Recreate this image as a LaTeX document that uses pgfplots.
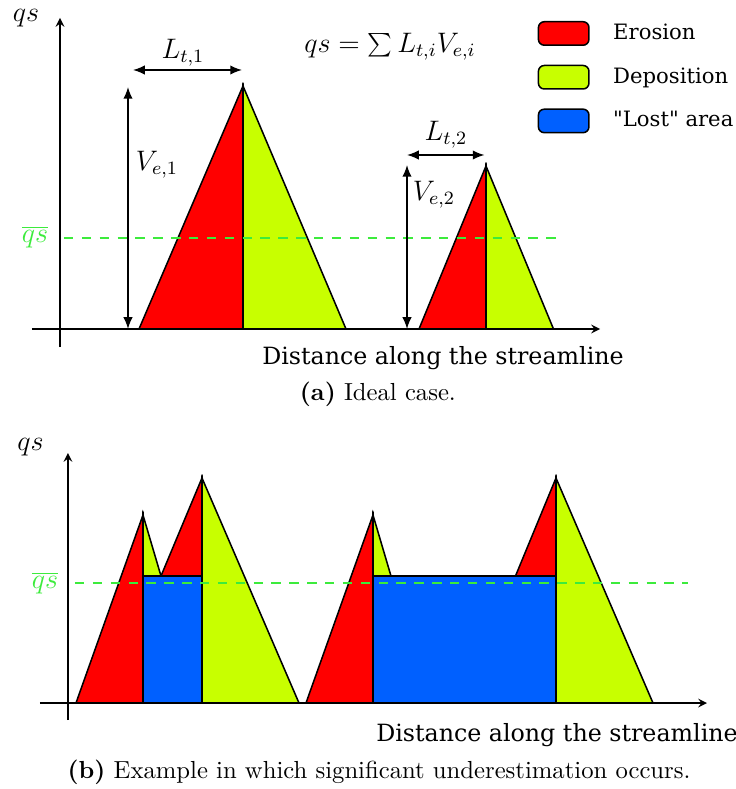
\documentclass[border=0pt]{standalone}
\usepackage{pgfplots}
\pgfplotsset{compat=1.18}
\usepackage{fontspec}
\newfontfamily\dvs{DejaVu Serif}
\usetikzlibrary{arrows.meta}
\definecolor{eros}{RGB}{255,0,0}
\definecolor{depo}{RGB}{200,255,0}
\definecolor{lost}{RGB}{0,96,255}
\definecolor{qsgreen}{RGB}{60,235,60}

\pgfplotsset{
  sketch/.style={
    axis lines=middle,
    x=0.4255pt, y=0.4255pt,
    xtick=\empty, ytick=\empty,
    clip=false, anchor=origin,
    >={Latex[length=5pt,width=4pt]},
    axis line style={line width=0.65pt},
    every axis plot/.append style={line width=0.65pt, forget plot},
  },
  region/.style={fill=#1, draw=black, line join=miter},
}
\tikzset{mlab/.style={font=\fontsize{12}{14}\selectfont}}

\begin{document}
\begin{tikzpicture}
% panel (a)
\begin{axis}[sketch, at={(25.53pt,195.73pt)},
    xmin=-28, xmax=540, ymin=-18, ymax=311,
    legend style={draw=none, fill=none, at={(axis description cs:0.877,1.012)},
      anchor=north west, font=\dvs\fontsize{9}{11}\selectfont,
      row sep=6.5pt, cells={anchor=west}},
    legend image code/.code={\draw[#1, rounded corners=2.5pt, line width=0.65pt] (0pt,-5pt) rectangle (21.5pt,5pt);},
  ]
  \addlegendimage{fill=eros, draw=black}\addlegendentry{\hspace{8pt}Erosion}
  \addlegendimage{fill=depo, draw=black}\addlegendentry{\hspace{8pt}Deposition}
  \addlegendimage{fill=lost, draw=black}\addlegendentry{\hspace{8pt}"Lost" area}

  \addplot[region=eros] coordinates {(79,0) (183,243) (183,0)} -- cycle;
  \addplot[region=depo] coordinates {(183,0) (183,243) (286,0)} -- cycle;
  \addplot[region=eros] coordinates {(359,0) (426,163) (426,0)} -- cycle;
  \addplot[region=depo] coordinates {(426,0) (426,163) (493.5,0)} -- cycle;

  \addplot[qsgreen, dash pattern=on 4pt off 3.6pt] coordinates {(4,91) (504,91)};

  \addplot[<->] coordinates {(68,0) (68,242)};
  \addplot[<->] coordinates {(73,259) (182,259)};
  \addplot[<->] coordinates {(347,0) (347,164)};
  \addplot[<->] coordinates {(347,174) (424.5,174)};

  \node[mlab] at (axis cs:123,276) {$L_{t,1}$};
  \node[mlab] at (axis cs:97,164) {$V_{e,1}$};
  \node[mlab] at (axis cs:386,194) {$L_{t,2}$};
  \node[mlab] at (axis cs:374,134) {$V_{e,2}$};
  \node[mlab] at (axis cs:330,282) {$qs = \sum L_{t,i}V_{e,i}$};
  \node[font=\fontsize{13}{15}\selectfont] at (axis cs:-34,311) {$qs$};
  \node[mlab, text=qsgreen] at (axis cs:-25,92) {$\overline{qs}$};
  \node[font=\dvs\fontsize{10.1}{12}\selectfont] at (axis cs:383,-29) {Distance along the streamline};
\end{axis}

% panel (b)
\begin{axis}[sketch, at={(28.93pt,36.59pt)},
    xmin=-28, xmax=639, ymin=-17, ymax=250,
  ]
  \addplot[region=eros] coordinates {(8,0) (75,188) (75,0)} -- cycle;
  \addplot[region=depo] coordinates {(75,188) (93,127) (75,127)} -- cycle;
  \addplot[region=lost] coordinates {(75,0) (75,127) (134,127) (134,0)} -- cycle;
  \addplot[region=eros] coordinates {(93,127) (134,225) (134,127)} -- cycle;
  \addplot[region=depo] coordinates {(134,225) (231,0) (134,0)} -- cycle;
  \addplot[region=eros] coordinates {(238,0) (305,188) (305,0)} -- cycle;
  \addplot[region=depo] coordinates {(305,188) (323,127) (305,127)} -- cycle;
  \addplot[region=lost] coordinates {(305,0) (305,127) (488,127) (488,0)} -- cycle;
  \addplot[region=eros] coordinates {(447.5,127) (488,225) (488,127)} -- cycle;
  \addplot[region=depo] coordinates {(488,225) (585,0) (488,0)} -- cycle;

  \addplot[qsgreen, dash pattern=on 4pt off 3.6pt] coordinates {(7,120) (620,120)};

  \node[font=\fontsize{13}{15}\selectfont] at (axis cs:-37.5,256) {$qs$};
  \node[mlab, text=qsgreen] at (axis cs:-23,120) {$\overline{qs}$};
  \node[font=\dvs\fontsize{10.1}{12}\selectfont] at (axis cs:489,-32) {Distance along the streamline};
\end{axis}

\node[font=\fontsize{10.5}{12}\selectfont] at (160.8pt,168.07pt) {\textbf{(a)} Ideal case.};
\node[font=\fontsize{10.5}{12}\selectfont] at (161.3pt,7.23pt) {\textbf{(b)} Example in which significant underestimation occurs.};

\pgfresetboundingbox
\path (0pt,0pt) rectangle (313.17pt,335.72pt);
\end{tikzpicture}
\end{document}
